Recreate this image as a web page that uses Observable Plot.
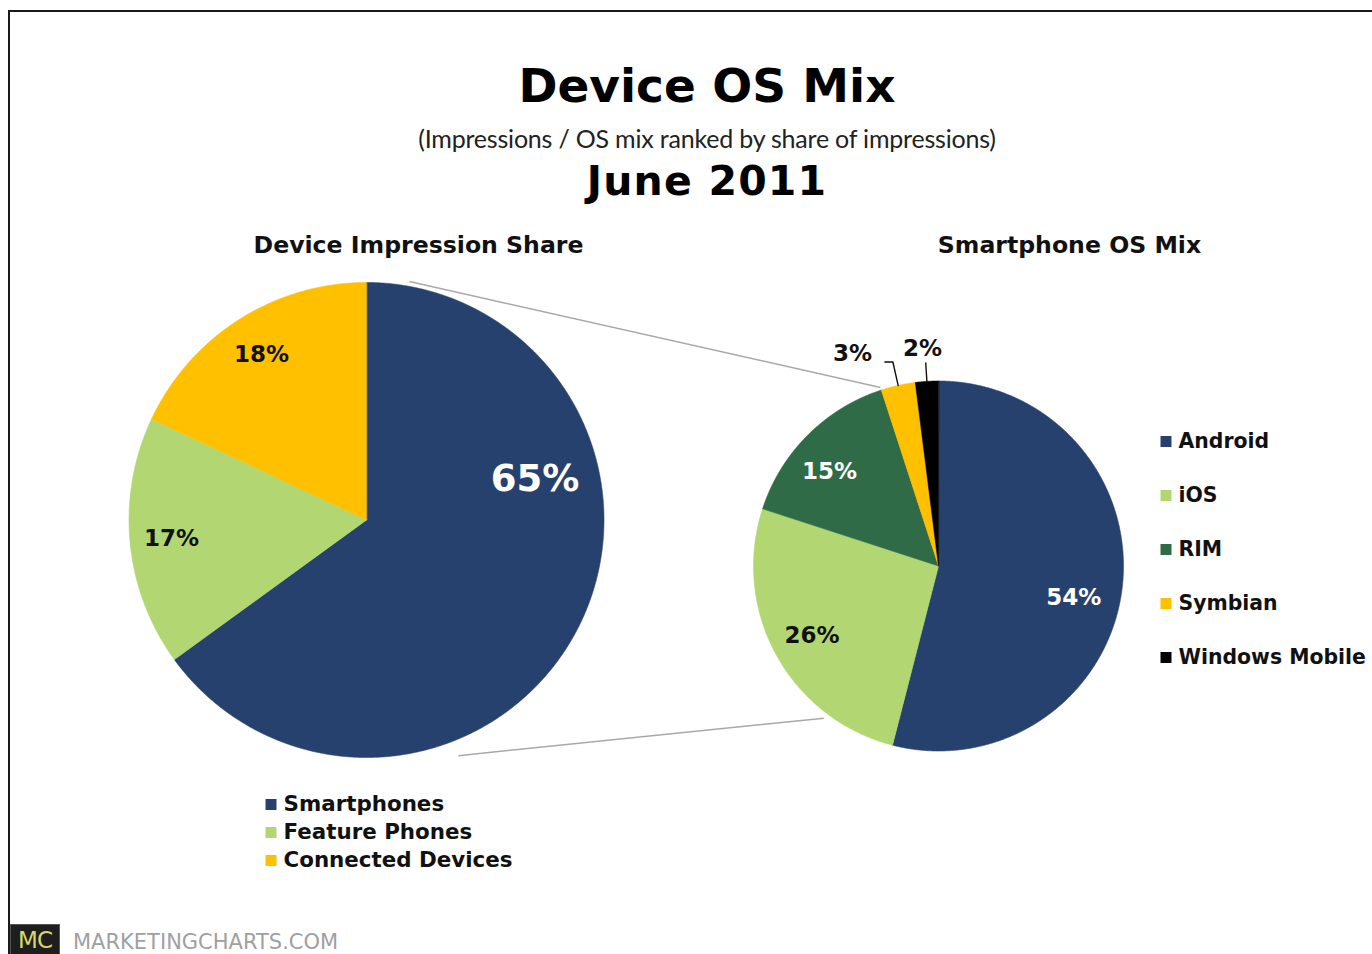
<!DOCTYPE html>
<html><head><meta charset="utf-8">
<script src="https://cdn.jsdelivr.net/npm/d3@7"></script>
<script src="https://cdn.jsdelivr.net/npm/@observablehq/plot@0.6"></script>
<style>
html,body{margin:0;padding:0;background:#fff;width:1372px;height:954px;overflow:hidden;position:relative;font-family:"DejaVu Sans",Verdana,sans-serif;}
#frame{position:absolute;left:8px;top:10px;width:1500px;height:1000px;border-top:2.5px solid #1a1a1a;border-left:2.5px solid #1a1a1a;box-sizing:border-box;}
.t{position:absolute;left:707px;transform:translateX(-50%);white-space:nowrap;line-height:1;color:#000;margin:0;}
#title{top:62px;font-size:47px;font-weight:bold;}
#subtitle{top:126px;font-family:Lato,"Open Sans",sans-serif;font-size:25px;color:#222;letter-spacing:-0.2px;}
#date{top:161px;font-size:41px;font-weight:bold;letter-spacing:1.2px;}
#chart{position:absolute;left:0;top:225px;}
#mc{position:absolute;left:10px;top:924px;width:50px;height:32px;background:#1e1e1e;border:1px solid #555;box-sizing:border-box;color:#d8d86c;font-size:23px;line-height:30px;text-align:center;letter-spacing:-1px;}
#site{position:absolute;left:73px;top:932px;font-size:21px;line-height:20px;color:#a0a0a0;white-space:nowrap;}
</style></head>
<body>
<div id="frame"></div>
<h1 class="t" id="title">Device OS Mix</h1>
<div class="t" id="subtitle">(Impressions / OS mix ranked by share of impressions)</div>
<div class="t" id="date">June 2011</div>
<div id="chart"></div>
<div id="mc">MC</div>
<div id="site">MARKETINGCHARTS.COM</div>
<script>
// ---- data ----
const deviceCategories = ["Smartphones", "Feature Phones", "Connected Devices"];
const deviceShares = [65, 17, 18];
const deviceColors = ["#27416e", "#b2d772", "#ffc000"];
const osCategories = ["Android", "iOS", "RIM", "Symbian", "Windows Mobile"];
const osShares = [54, 26, 15, 3, 2];
const osColors = ["#27416e", "#b2d772", "#2e6b46", "#ffc000", "#000000"];
const pieTitles = ["Device Impression Share", "Smartphone OS Mix"];

// ---- layout ----
const W = 1372, TOP = 225, H = 954 - TOP;
const pies = [
  {cx: 366, cy: 519.5, r: 237.5, title: pieTitles[0], titleX: 418, titleY: 245,
   cats: deviceCategories, vals: deviceShares,
   labels: [{frac: 0.73, angle: 76.5, ink: "white", big: true}, {frac: 0.825, ink: "black"}, {frac: 0.825, ink: "black"}],
   legend: {x: 270.5, y: 804, step: 28, size: 21.4}},
  {cx: 938, cy: 565.5, r: 185, title: pieTitles[1], titleX: 1069, titleY: 245,
   cats: osCategories, vals: osShares,
   labels: [{frac: 0.75, angle: 103, ink: "white"}, {frac: 0.78, ink: "black"}, {frac: 0.78, angle: 311, ink: "white"},
            {frac: 1.24, angle: 338, ink: "black", leader: [1.0, 1.13], hook: -8}, {frac: 1.18, angle: 355.8, ink: "black", leader: [1.0, 1.10]}],
   legend: {x: 1165.5, y: 441, step: 54, size: 20.4}}
];
const rad = d => d * Math.PI / 180;
const polar = (p, a, f) => ({x: p.cx + p.r * f * Math.sin(a), y: p.cy - p.r * f * Math.cos(a)});

const slicePts = [], labels = [], leaders = [], legendItems = [];
pies.forEach((p, pi) => {
  const data = p.cats.map((c, i) => ({category: c, value: p.vals[i]}));
  const arcs = d3.pie().sort(null).value(d => d.value)(data);
  arcs.forEach((a, i) => {
    const cat = a.data.category;
    slicePts.push({x: p.cx, y: p.cy, key: pi + cat, category: cat});
    const n = Math.max(2, Math.ceil((a.endAngle - a.startAngle) / 0.004));
    for (let k = 0; k <= n; k++) {
      const t = a.startAngle + (a.endAngle - a.startAngle) * k / n;
      const q = polar(p, t, 1);
      slicePts.push({x: q.x, y: q.y, key: pi + cat, category: cat});
    }
    const L = p.labels[i];
    const mid = (a.startAngle + a.endAngle) / 2;
    const ang = L.angle != null ? rad(L.angle) : mid;
    const pos = polar(p, ang, L.frac);
    labels.push({...pos, text: a.data.value + "%", ink: L.ink, big: !!L.big});
    if (L.leader) {
      const e = polar(p, mid, L.leader[0]);
      const b = polar(p, mid, L.leader[1]);
      leaders.push({x: e.x, y: e.y, key: cat});
      leaders.push({x: b.x, y: b.y, key: cat});
      if (L.hook) leaders.push({x: b.x + L.hook, y: b.y, key: cat});
    }
    legendItems.push({x: p.legend.x, y: p.legend.y + i * p.legend.step, category: cat, pie: pi});
  });
});
const L0 = pies[0], L1 = pies[1];
const connectors = [
  [polar(L0, rad(10.2), 1.02), polar(L1, rad(342), 1.015)],
  [polar(L0, rad(158.7), 1.065), polar(L1, rad(217), 1.03)]
].map(([a, b]) => ({x1: a.x, y1: a.y, x2: b.x, y2: b.y}));

const font = "DejaVu Sans, Verdana, sans-serif";
const legendText = pi => Plot.text(legendItems.filter(d => d.pie === pi), {x: d => d.x + 12.5, y: "y", text: "category", textAnchor: "start", fill: "#111", fontSize: pies[pi].legend.size, fontWeight: "bold", fontFamily: font});
const chart = Plot.plot({
  width: W, height: H,
  margin: 0,
  style: {background: "transparent", fontFamily: font, overflow: "visible"},
  x: {domain: [0, W], range: [0, W], axis: null},
  y: {domain: [TOP, 954], range: [0, H], axis: null},
  color: {type: "ordinal", domain: [...deviceCategories, ...osCategories], range: [...deviceColors, ...osColors]},
  marks: [
    Plot.link(connectors, {x1: "x1", y1: "y1", x2: "x2", y2: "y2", stroke: "#a8a8a8", strokeWidth: 1.5}),
    Plot.line(slicePts, {x: "x", y: "y", z: "key", fill: "category", stroke: "category", strokeWidth: 0.6, curve: "linear-closed"}),
    Plot.line(leaders, {x: "x", y: "y", z: "key", stroke: "#111", strokeWidth: 1.4}),
    Plot.text(labels.filter(d => d.big), {x: "x", y: "y", text: "text", fill: "white", fontSize: 37, fontWeight: "bold", fontFamily: font}),
    Plot.text(labels.filter(d => !d.big && d.ink === "white"), {x: "x", y: "y", text: "text", fill: "white", fontSize: 23, fontWeight: "bold", fontFamily: font}),
    Plot.text(labels.filter(d => !d.big && d.ink === "black"), {x: "x", y: "y", text: "text", fill: "#111", fontSize: 23, fontWeight: "bold", fontFamily: font}),
    Plot.text(pies, {x: "titleX", y: "titleY", text: "title", fill: "#111", fontSize: 23.6, fontWeight: "bold", fontFamily: font}),
    Plot.dot(legendItems, {x: "x", y: "y", fill: "category", symbol: "square", r: 6.2, stroke: null}),
    legendText(0),
    legendText(1)
  ]
});
document.getElementById("chart").appendChild(chart);
</script>
</body></html>
